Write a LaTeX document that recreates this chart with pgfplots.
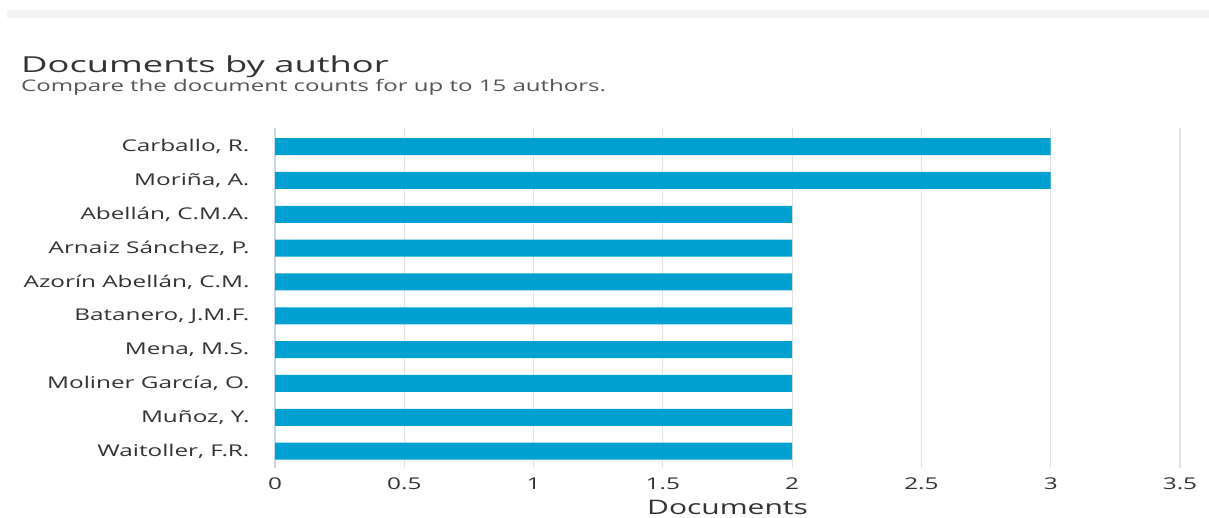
\documentclass[border=0pt]{standalone}
\usepackage{pgfplots}
\pgfplotsset{compat=1.18}
\usepackage{fontspec}
\setmainfont[FakeStretch=1.5]{Open Sans}
\newfontfamily\titlefont[FakeStretch=1.65]{Open Sans}
\definecolor{barblue}{HTML}{00A0D0}
\definecolor{axisblue}{HTML}{CCD6EB}
\definecolor{gridgray}{HTML}{E3E3E3}
\definecolor{txt}{HTML}{333333}
\definecolor{subtxt}{HTML}{555555}
\definecolor{topbar}{HTML}{F3F3F3}
\begin{document}
\begin{tikzpicture}[x=1pt,y=1pt]
\useasboundingbox[fill=white] (0,0) rectangle (1209,518);
\fill[topbar] (7,500) rectangle (1209,508);
\node[anchor=base west,inner sep=0,text=txt,font=\titlefont\fontsize{22}{26}\selectfont] at (21,445) {Documents by author};
\node[anchor=base west,inner sep=0,text=subtxt,font=\fontsize{16}{19}\selectfont] at (21,426) {Compare the document counts for up to 15 authors.};
\begin{axis}[
  at={(275pt,50pt)}, anchor=south west,
  scale only axis, width=905pt, height=340pt,
  xbar, bar width=17pt,
  xmin=0, xmax=3.5,
  ymin=-0.55, ymax=9.5, y dir=reverse,
  ytick={0,...,9},
  yticklabels={{Carballo, R.},{Moriña, A.},{Abellán, C.M.A.},{Arnaiz Sánchez, P.},{Azorín Abellán, C.M.},{Batanero, J.M.F.},{Mena, M.S.},{Moliner García, O.},{Muñoz, Y.},{Waitoller, F.R.}},
  xtick={0,0.5,...,3.5},
  axis y line*=left, axis x line*=bottom,
  x axis line style={draw=none},
  y axis line style={draw=axisblue, line width=1.2pt, -},
  major tick length=0pt,
  xmajorgrids, grid style={gridgray, line width=1.2pt},
  /pgf/number format/assume math mode=true,
  ticklabel style={text=txt, font=\fontsize{16.2}{19}\selectfont},
  xticklabel style={yshift=-6pt},
  yticklabel style={xshift=-22pt},
  xlabel={Documents},
  xlabel style={text=txt, font=\fontsize{20}{23}\selectfont, yshift=-4pt},
]
\addplot[fill=barblue, draw=none] coordinates {
(3,0) (3,1) (2,2) (2,3) (2,4) (2,5) (2,6) (2,7) (2,8) (2,9)
};
\end{axis}
\end{tikzpicture}
\end{document}
